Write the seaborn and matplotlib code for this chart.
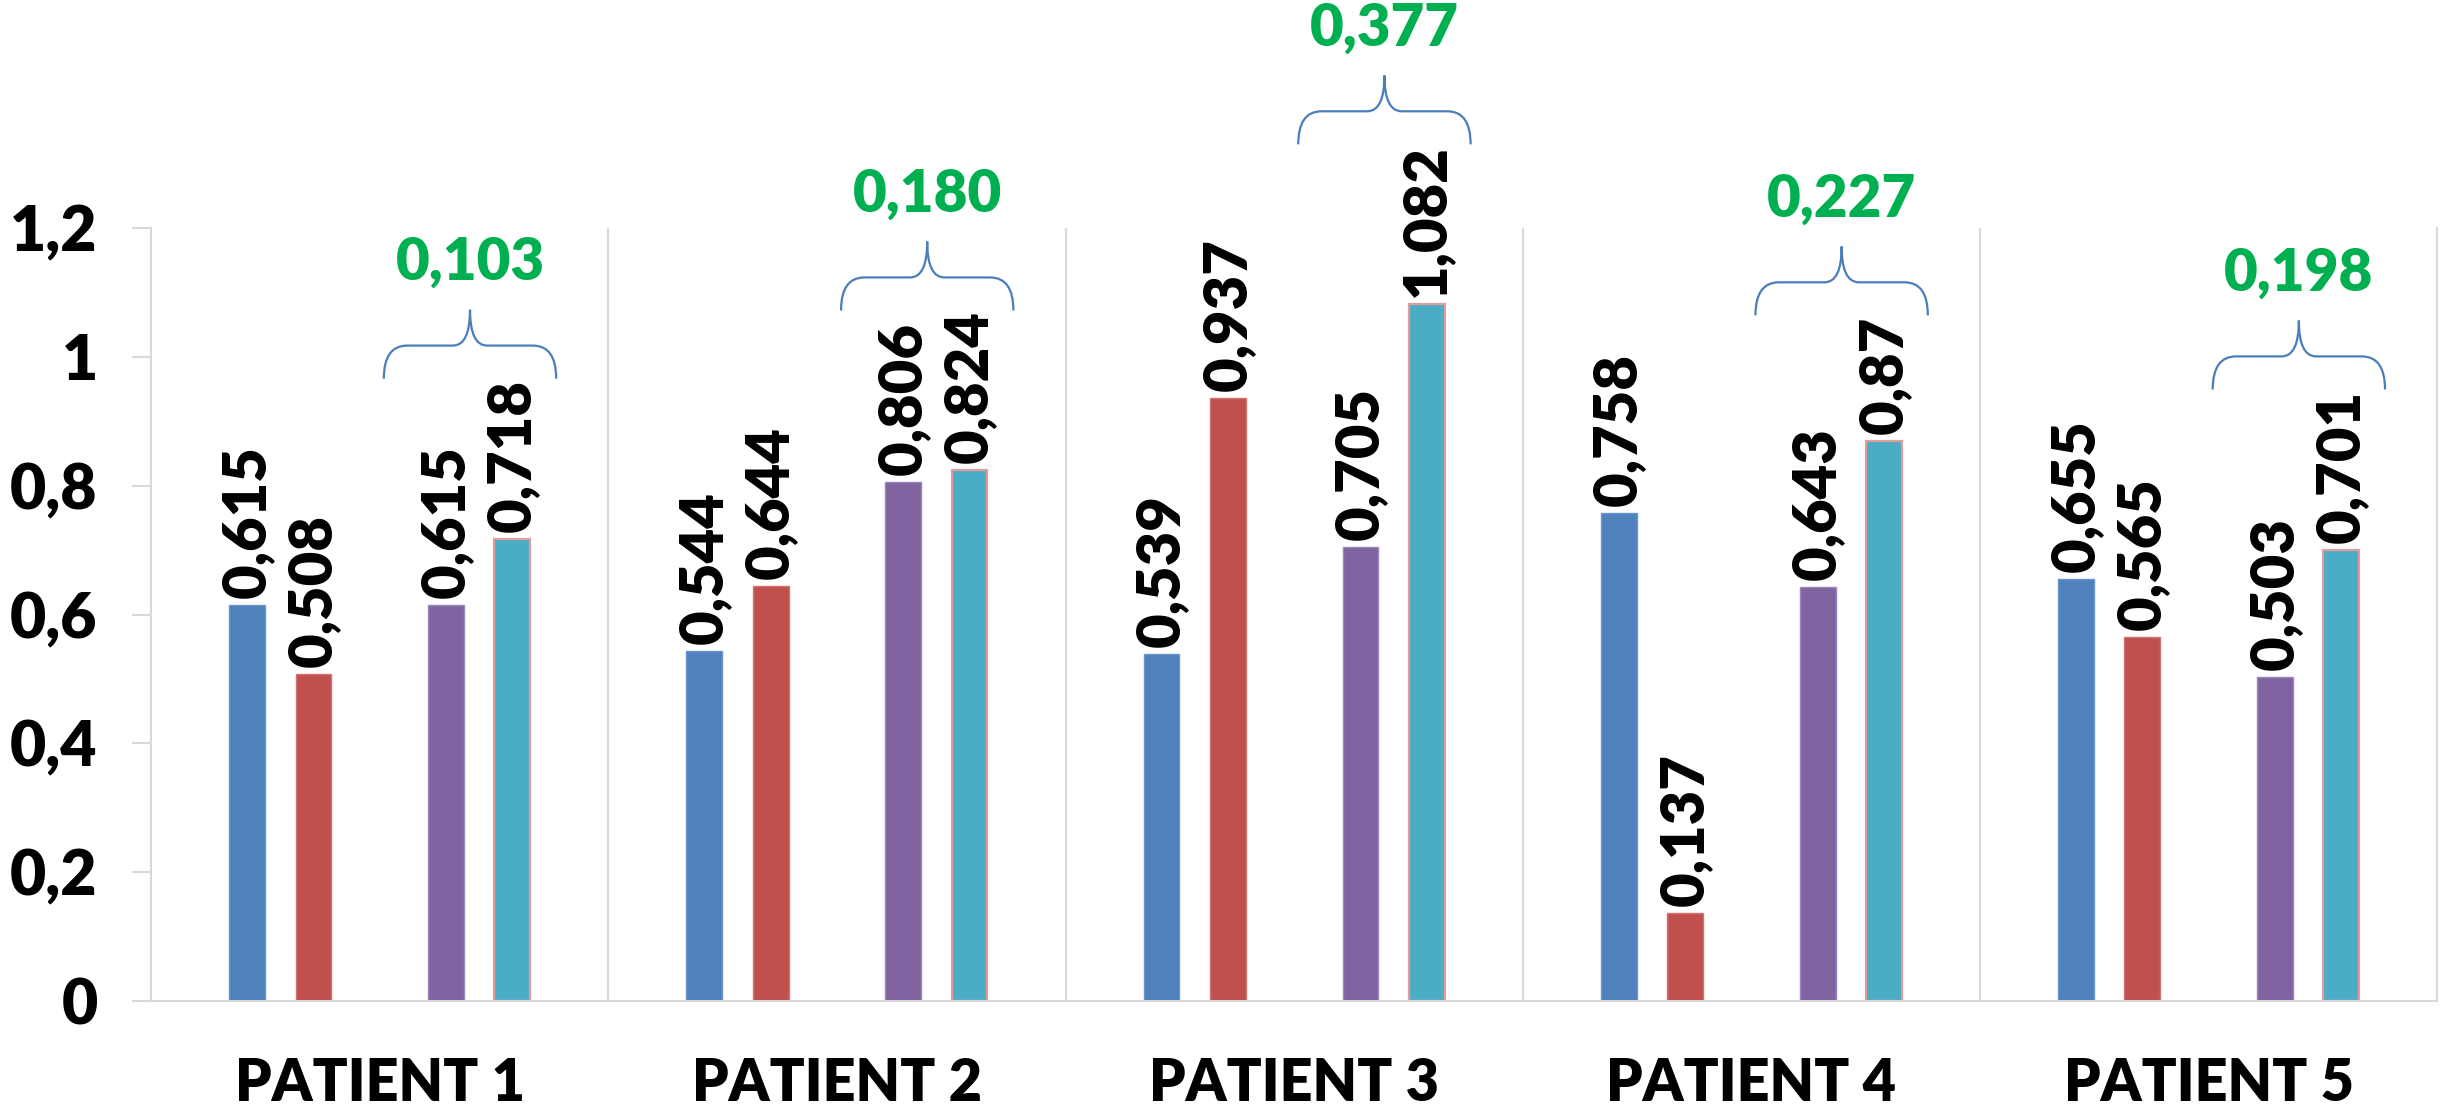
import numpy as np
import pandas as pd
import matplotlib
matplotlib.use("Agg")
import matplotlib.pyplot as plt
import matplotlib.colors as mcolors
from matplotlib.path import Path
from matplotlib.patches import PathPatch
import seaborn as sns

# ---------------- data ----------------
patients = ["PATIENT 1", "PATIENT 2", "PATIENT 3", "PATIENT 4", "PATIENT 5"]
series_blue = [0.615, 0.544, 0.539, 0.758, 0.655]
series_red = [0.508, 0.644, 0.937, 0.137, 0.565]
series_purple = [0.615, 0.806, 0.705, 0.643, 0.503]
series_teal = [0.718, 0.824, 1.082, 0.87, 0.701]
diff_labels = ["0,103", "0,180", "0,377", "0,227", "0,198"]
ytick_vals = [0, 0.2, 0.4, 0.6, 0.8, 1.0, 1.2]
ytick_labels = ["0", "0,2", "0,4", "0,6", "0,8", "1", "1,2"]

hue_order = ["S1", "S2", "empty", "S3", "S4"]
palette = {"S1": "#4F81BD", "S2": "#C0504D", "empty": "#FFFFFF",
           "S3": "#8064A2", "S4": "#4BACC6"}

rows = []
for name, vals in [("S1", series_blue), ("S2", series_red),
                   ("S3", series_purple), ("S4", series_teal)]:
    for p, v in zip(patients, vals):
        rows.append({"patient": p, "series": name, "value": v})
df = pd.DataFrame(rows)

# ---------------- style ----------------
sns.set_theme(style="white")
plt.rcParams["font.family"] = ["Lato", "DejaVu Sans"]
plt.rcParams["font.weight"] = "heavy"
W = "heavy"

fig = plt.figure(figsize=(24.45, 11.12), dpi=100)
ax = fig.add_axes([0.0618, 0.0998, 0.935, 0.695])

sns.barplot(data=df, x="patient", y="value", hue="series", order=patients,
            hue_order=hue_order, palette=palette, width=0.725, gap=0.46,
            saturation=1, errorbar=None, legend=False, ax=ax)

ax.set_xlim(-0.5, 4.5)
ax.set_ylim(0, 1.2)
ax.set_xlabel("")
ax.set_ylabel("")

grid_c = "#D9D9D9"
ax.set_yticks(ytick_vals)
ax.set_yticklabels(ytick_labels, fontsize=45, fontweight=W, color="black")
ax.tick_params(axis="y", direction="out", length=13.5, width=1.5, color=grid_c,
               pad=25, left=True)
ax.tick_params(axis="x", length=0, pad=40, labelsize=41.5)
for lab in ax.get_xticklabels():
    lab.set_fontweight(W)
    lab.set_color("black")

ax.set_xticks([0.5, 1.5, 2.5, 3.5], minor=True)
ax.grid(False)
ax.grid(True, axis="x", which="minor", color=grid_c, linewidth=1.5)
ax.tick_params(axis="x", which="minor", length=0)
for side in ["left", "right", "bottom"]:
    ax.spines[side].set_visible(True)
    ax.spines[side].set_color(grid_c)
    ax.spines[side].set_linewidth(1.5)
ax.spines["top"].set_visible(False)

# ---------------- bars: edges & labels ----------------
teal_rgba = mcolors.to_rgba(palette["S4"])
purple_rgba = mcolors.to_rgba(palette["S3"])
blue_rgba = mcolors.to_rgba(palette["S1"])
red_rgba = mcolors.to_rgba(palette["S2"])

def same(c1, c2):
    return np.allclose(c1[:3], c2[:3], atol=0.02)

teal_bars, purple_bars = [], []
for bar in ax.patches:
    h = bar.get_height()
    if not np.isfinite(h) or h == 0:
        continue
    fc = bar.get_facecolor()
    if same(fc, teal_rgba):
        bar.set_edgecolor("#E39C9C")
        bar.set_linewidth(1.6)
        teal_bars.append(bar)
    elif same(fc, purple_rgba):
        bar.set_edgecolor("#9A86B8")
        bar.set_linewidth(1.0)
        purple_bars.append(bar)
    elif same(fc, blue_rgba):
        bar.set_edgecolor("#6C95CB")
        bar.set_linewidth(1.0)
    elif same(fc, red_rgba):
        bar.set_edgecolor("#CF7472")
        bar.set_linewidth(1.0)

labels_by_bar = {}
for bar in ax.patches:
    h = bar.get_height()
    if not np.isfinite(h) or h == 0:
        continue
    txt = ("%g" % round(h, 3)).replace(".", ",")
    t = ax.annotate(txt, xy=(bar.get_x() + bar.get_width() / 2, h),
                    xytext=(0, 5), textcoords="offset points",
                    rotation=90, ha="center", va="bottom",
                    fontsize=43, fontweight=W, color="black")
    labels_by_bar[id(bar)] = t

teal_bars.sort(key=lambda b: b.get_x())
purple_bars.sort(key=lambda b: b.get_x())

fig.canvas.draw()
renderer = fig.canvas.get_renderer()
inv = ax.transData.inverted()

brace_color = "#4A7EBB"
brace_h = 0.107
for i, (pb, tb) in enumerate(zip(purple_bars, teal_bars)):
    xp = pb.get_x() + pb.get_width() / 2
    xt = tb.get_x() + tb.get_width() / 2
    xc = (xp + xt) / 2 - 0.02
    half = 1.3 * (xt - xp)
    bb = labels_by_bar[id(tb)].get_window_extent(renderer)
    y0 = inv.transform((0, bb.y1))[1] + 0.0
    h1 = 0.48 * brace_h
    x0, x1 = xc - half, xc + half
    r1 = 0.27 * half
    r2 = 0.2 * half
    verts = [
        (x0, y0),
        (x0, y0 + h1), (x0 + r1, y0 + h1),
        (xc - r2, y0 + h1),
        (xc, y0 + h1), (xc, y0 + brace_h),
        (xc, y0 + h1), (xc + r2, y0 + h1),
        (x1 - r1, y0 + h1),
        (x1, y0 + h1), (x1, y0),
    ]
    codes = [Path.MOVETO,
             Path.CURVE3, Path.CURVE3,
             Path.LINETO,
             Path.CURVE3, Path.CURVE3,
             Path.CURVE3, Path.CURVE3,
             Path.LINETO,
             Path.CURVE3, Path.CURVE3]
    patch = PathPatch(Path(verts, codes), facecolor="none",
                      edgecolor=brace_color, linewidth=1.6, clip_on=False)
    ax.add_patch(patch)
    ax.annotate(diff_labels[i], xy=(xc, y0 + brace_h), xytext=(0, 34),
                textcoords="offset points", ha="center", va="center",
                fontsize=42, fontweight=W, color="#00B050",
                annotation_clip=False)

fig.savefig("out.png", dpi=100, facecolor="white")
